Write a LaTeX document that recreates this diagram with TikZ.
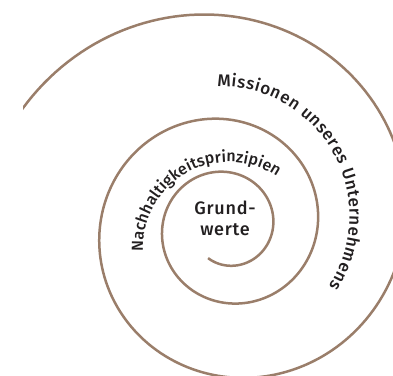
\documentclass[tikz,border=0pt]{standalone}
\usepackage{fontspec}
\setmainfont{Fira Sans}[UprightFont=* Medium]
\usetikzlibrary{decorations.text,calc}
\definecolor{spiralc}{RGB}{154,126,106}
\definecolor{textc}{RGB}{34,31,32}
\tikzset{
  spiralline/.style={draw=spiralc, line width=2.5pt, line cap=butt},
  coretext/.style={align=center, text=textc, font=\fontsize{18}{21}\selectfont\addfontfeatures{LetterSpace=4}, inner sep=0pt},
}
\begin{document}
\begin{tikzpicture}[x=1pt,y=1pt]
\useasboundingbox (0,0) rectangle (393,375);
\begin{scope}
  \clip (23,0) rectangle (393,375);
  \draw[spiralline] plot[domain=-121:876, samples=500, variable=\t]
    ({227+54.6*exp(0.0018693*(\t-90))*cos(\t)}, {148.4+54.6*exp(0.0018693*(\t-90))*sin(\t)});
\end{scope}
\node[coretext] (core) at (225,157) {Grund-\\werte};
\coordinate (c1) at (229,127);
\coordinate (c2) at (220,159);
\path[decorate, decoration={text along path, text align=fit to path,
  text={|\fontsize{16}{19}\selectfont\color{textc}|Nachhaltigkeitsprinzipien}}]
  ($(c1)+(182.3:86)$) arc[start angle=182.3, end angle=56, radius=86];
\path[decorate, decoration={text along path, text align=fit to path,
  text={|\fontsize{17}{20}\selectfont\color{textc}|Missionen unseres Unternehmens}}]
  ($(c2)+(91.2:129.5)$) arc[start angle=91.2, end angle=-33, radius=129.5];
\end{tikzpicture}
\end{document}
